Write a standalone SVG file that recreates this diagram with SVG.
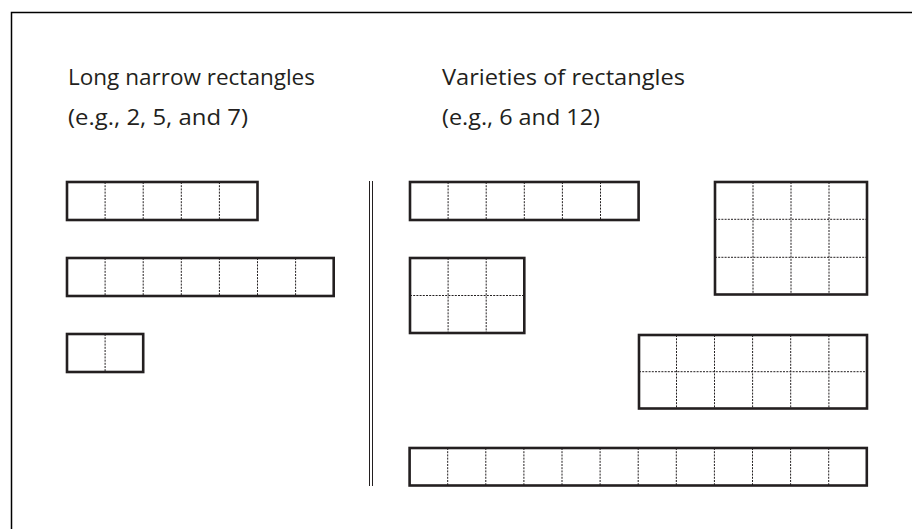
<svg xmlns="http://www.w3.org/2000/svg" width="912" height="529" viewBox="0 0 912 529">
<style>
.frame{fill:none;stroke:#000;stroke-width:1.5}
.box{fill:#fff;stroke:#231f20;stroke-width:2.6}
.grid{fill:none;stroke:#231f20;stroke-width:1;stroke-dasharray:2 1.2}
.lbl{font-family:"Open Sans","Noto Sans",sans-serif;font-size:22px;fill:#231f20}
.sep{stroke:#231f20;stroke-width:1;fill:none}
</style>
<rect width="912" height="529" fill="#fff"/>
<path class="frame" d="M11.5,529 V12.5 H912"/>
<g id="labels">
<text class="lbl" x="68" y="85" textLength="247" lengthAdjust="spacingAndGlyphs">Long narrow rectangles</text>
<text class="lbl" x="68" y="125" textLength="180" lengthAdjust="spacingAndGlyphs">(e.g., 2, 5, and 7)</text>
<text class="lbl" x="442" y="85" textLength="243" lengthAdjust="spacingAndGlyphs">Varieties of rectangles</text>
<text class="lbl" x="442" y="125" textLength="158" lengthAdjust="spacingAndGlyphs">(e.g., 6 and 12)</text>
</g>
<g id="separator">
<path class="sep" d="M369.5,181 V486 M372.5,181 V486"/>
</g>
<g id="rect-5">
<rect class="box" x="67" y="182" width="190.5" height="38"/>
<path class="grid" d="M105.1,182V220M143.2,182V220M181.3,182V220M219.4,182V220"/>
</g>
<g id="rect-7">
<rect class="box" x="67" y="258" width="266.7" height="38"/>
<path class="grid" d="M105.1,258V296M143.2,258V296M181.3,258V296M219.4,258V296M257.5,258V296M295.6,258V296"/>
</g>
<g id="rect-2">
<rect class="box" x="67" y="334" width="76.2" height="38"/>
<path class="grid" d="M105.1,334V372"/>
</g>
<g id="rect-6-long">
<rect class="box" x="410" y="182" width="228.6" height="38"/>
<path class="grid" d="M448.1,182V220M486.2,182V220M524.3,182V220M562.4,182V220M600.5,182V220"/>
</g>
<g id="rect-6-3x2">
<rect class="box" x="410" y="258" width="114.3" height="75"/>
<path class="grid" d="M448.1,258V333M486.2,258V333M410,295.5H524.3"/>
</g>
<g id="rect-12-4x3">
<rect class="box" x="715" y="182" width="152" height="112.5"/>
<path class="grid" d="M753,182V294.5M791,182V294.5M829,182V294.5M715,219.3H867M715,257.3H867"/>
</g>
<g id="rect-12-6x2">
<rect class="box" x="639" y="335" width="228" height="73.5"/>
<path class="grid" d="M676.5,335V408.5M714.5,335V408.5M752.6,335V408.5M790.7,335V408.5M828.9,335V408.5M639,371.7H867"/>
</g>
<g id="rect-12-long">
<rect class="box" x="409.6" y="448" width="457.2" height="37.5"/>
<path class="grid" d="M447.7,448V485.5M485.8,448V485.5M523.9,448V485.5M562,448V485.5M600.1,448V485.5M638.2,448V485.5M676.3,448V485.5M714.4,448V485.5M752.5,448V485.5M790.6,448V485.5M828.7,448V485.5"/>
</g>
</svg>
